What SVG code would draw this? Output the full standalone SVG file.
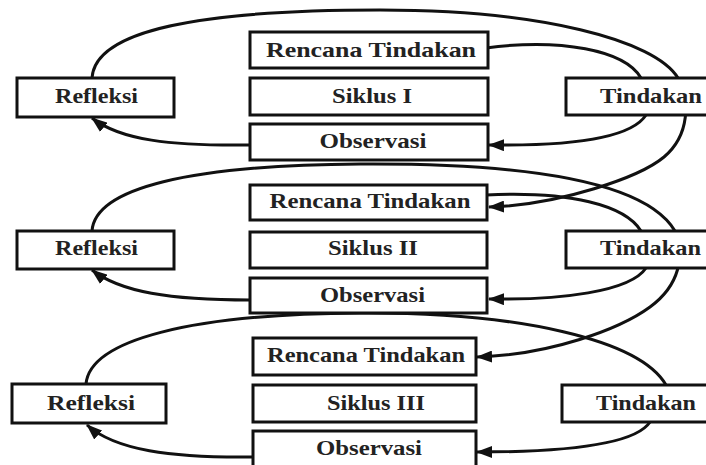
<svg xmlns="http://www.w3.org/2000/svg" width="706" height="465" viewBox="0 0 706 465">
<style>
.box{fill:#fff;stroke:#111;stroke-width:3}
.lbl{font-family:"Liberation Serif","Times New Roman",serif;font-weight:bold;font-size:21px;fill:#222;text-anchor:middle}
.c{fill:none;stroke:#111;stroke-width:3}
.a{marker-end:url(#ah)}
</style>
<defs>
<marker id="ah" viewBox="0 0 16 12" refX="15" refY="6" markerWidth="16" markerHeight="12" markerUnits="userSpaceOnUse" orient="auto">
<path d="M0,0 L16,6 L0,12 z" fill="#111"/>
</marker>
</defs>
<rect width="706" height="465" fill="#fff"/>
<g id="connectors">
<path class="c a" d="M92 78 C95 30,200 10,380 10 C540 10,655 40,678 78 C690 100,690 135,664 157 C640 177,560 205,489 207"/>
<path class="c" d="M486 48 C560 38,625 50,641 78"/>
<path class="c a" d="M646 115 C630 140,560 146,489 145"/>
<path class="c a" d="M250 145 C170 146,120 140,92 118"/>
<path class="c a" d="M92 231 C95 188,190 165,360 164 C520 163,645 180,675 231 C685 255,680 285,650 307 C620 329,550 355,477 357"/>
<path class="c" d="M486 195 C570 191,625 205,641 231"/>
<path class="c a" d="M646 268 C630 292,560 300,489 299"/>
<path class="c a" d="M250 300 C170 300,120 292,92 270"/>
<path class="c" d="M86 384 C90 340,190 314,360 313 C520 312,640 340,666 385"/>
<path class="c a" d="M650 422 C635 445,560 452,477 452"/>
<path class="c a" d="M253 457 C170 458,115 450,87 425"/>
</g>
<g id="rencana1"><rect class="box" x="250" y="32" width="238" height="36"/><text class="lbl" x="371" y="57" textLength="210" lengthAdjust="spacingAndGlyphs">Rencana Tindakan</text></g>
<g id="siklus1"><rect class="box" x="250" y="78" width="238" height="37"/><text class="lbl" x="372" y="103" textLength="80" lengthAdjust="spacingAndGlyphs">Siklus I</text></g>
<g id="observasi1"><rect class="box" x="250" y="124" width="238" height="36"/><text class="lbl" x="373" y="148" textLength="107" lengthAdjust="spacingAndGlyphs">Observasi</text></g>
<g id="refleksi1"><rect class="box" x="17" y="78" width="157" height="39"/><text class="lbl" x="96.5" y="103" textLength="83" lengthAdjust="spacingAndGlyphs">Refleksi</text></g>
<g id="tindakan1"><rect class="box" x="566" y="78" width="150" height="37"/><text class="lbl" x="651" y="103" textLength="102" lengthAdjust="spacingAndGlyphs">Tindakan</text></g>
<g id="rencana2"><rect class="box" x="250" y="185" width="237" height="35"/><text class="lbl" x="370" y="208" textLength="201" lengthAdjust="spacingAndGlyphs">Rencana Tindakan</text></g>
<g id="siklus2"><rect class="box" x="250" y="232" width="237" height="36"/><text class="lbl" x="373" y="255" textLength="90" lengthAdjust="spacingAndGlyphs">Siklus II</text></g>
<g id="observasi2"><rect class="box" x="250" y="278" width="237" height="35"/><text class="lbl" x="372.5" y="302" textLength="105" lengthAdjust="spacingAndGlyphs">Observasi</text></g>
<g id="refleksi2"><rect class="box" x="17" y="231" width="157" height="38"/><text class="lbl" x="96.5" y="255" textLength="83" lengthAdjust="spacingAndGlyphs">Refleksi</text></g>
<g id="tindakan2"><rect class="box" x="566" y="231" width="150" height="37"/><text class="lbl" x="650.5" y="255" textLength="101" lengthAdjust="spacingAndGlyphs">Tindakan</text></g>
<g id="rencana3"><rect class="box" x="253" y="338" width="223" height="37"/><text class="lbl" x="366" y="362" textLength="198" lengthAdjust="spacingAndGlyphs">Rencana Tindakan</text></g>
<g id="siklus3"><rect class="box" x="253" y="385" width="223" height="37"/><text class="lbl" x="376" y="410" textLength="98" lengthAdjust="spacingAndGlyphs">Siklus III</text></g>
<g id="observasi3"><rect class="box" x="253" y="431" width="223" height="40"/><text class="lbl" x="369" y="455" textLength="106" lengthAdjust="spacingAndGlyphs">Observasi</text></g>
<g id="refleksi3"><rect class="box" x="12" y="384" width="154" height="39"/><text class="lbl" x="91" y="410" textLength="88" lengthAdjust="spacingAndGlyphs">Refleksi</text></g>
<g id="tindakan3"><rect class="box" x="562" y="385" width="150" height="37"/><text class="lbl" x="646" y="410" textLength="100" lengthAdjust="spacingAndGlyphs">Tindakan</text></g>
</svg>
